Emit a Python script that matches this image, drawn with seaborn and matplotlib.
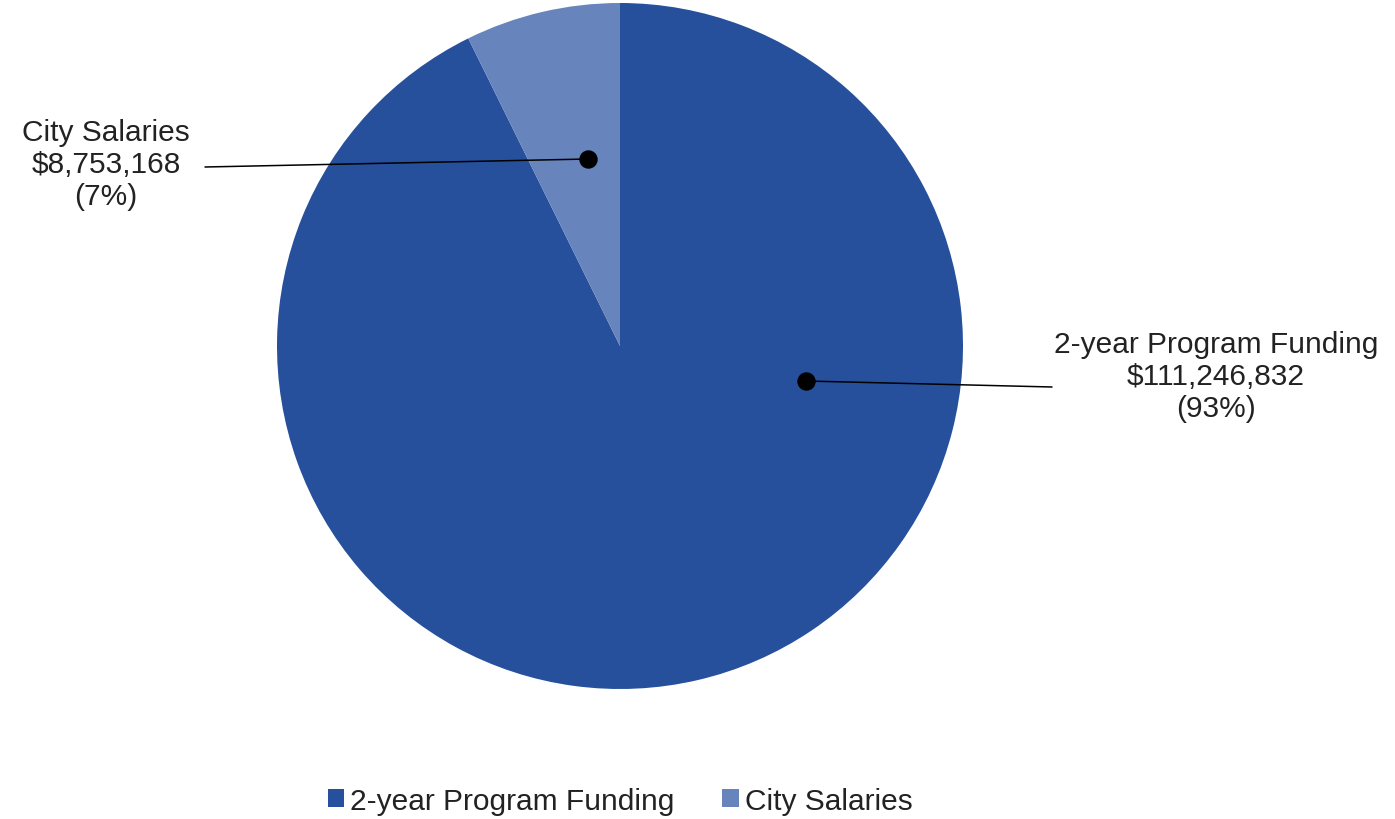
import matplotlib
matplotlib.use("Agg")
import matplotlib.pyplot as plt
import seaborn as sns
import numpy as np
from matplotlib.patches import Patch

sns.set_theme(style="white")
plt.rcParams['font.family'] = ['Liberation Sans', 'DejaVu Sans']

categories = ["2-year Program Funding", "City Salaries"]
values = [111246832, 8753168]
percent_labels = ["(93%)", "(7%)"]
colors = ["#27509C", "#6784BD"]

W, H = 1395, 820
fig = plt.figure(figsize=(W / 100, H / 100), dpi=100)
ax = fig.add_axes([0, 0, 1, 1])

cx, cy, R = 620, H - 347, 343
ax.pie(values, colors=colors, startangle=90, counterclock=False,
       center=(cx, cy), radius=R, wedgeprops=dict(linewidth=0))
ax.set_xlim(0, W)
ax.set_ylim(0, H)
ax.set_aspect('equal')
ax.axis('off')

# label anchor points (dot) and text positions, in pixel coords
dots = [(806, H - 382), (588, H - 160)]
line_ends = [(1052, H - 388), (205, H - 168)]
text_pos = [(1216, H - 377), (106, H - 165)]

for i, cat in enumerate(categories):
    dx, dy = dots[i]
    lx, ly = line_ends[i]
    ax.plot([dx, lx], [dy, ly], color="black", lw=1.1, zorder=3)
    ax.scatter([dx], [dy], s=150, color="black", zorder=4)
    txt = f"{cat}\n${values[i]:,}\n{percent_labels[i]}"
    ax.text(text_pos[i][0], text_pos[i][1], txt, ha="center", va="center",
            fontsize=21.5, color="#222222", linespacing=1.2)

handles = [Patch(facecolor=c, edgecolor='none') for c in colors]
fig.legend(handles, categories, loc="center", bbox_to_anchor=(620 / W, 1 - 802 / H),
           ncol=2, frameon=False, fontsize=21.5, handlelength=0.55, handleheight=0.55,
           handletextpad=0.2, columnspacing=1.6, labelcolor="#222222")

fig.savefig("out.png", dpi=100)
